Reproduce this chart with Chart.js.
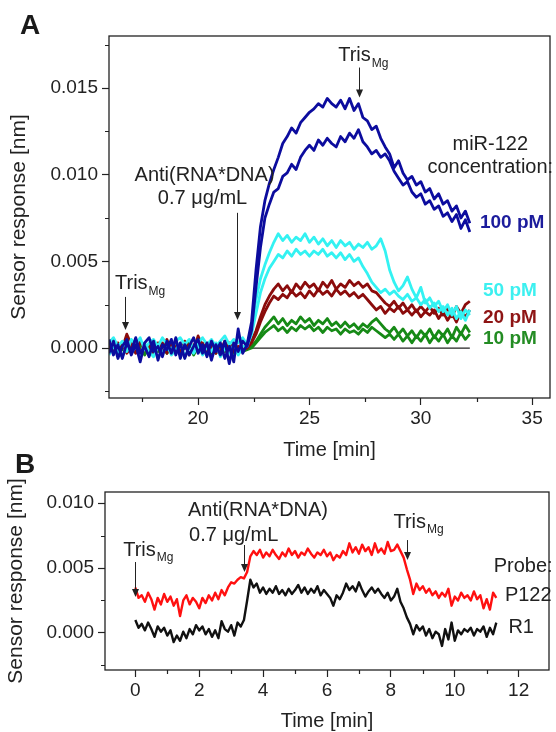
<!DOCTYPE html>
<html>
<head>
<meta charset="utf-8">
<script src="https://cdn.jsdelivr.net/npm/chart.js@4.4.1/dist/chart.umd.min.js"></script>
<style>
  html, body { margin: 0; padding: 0; background: #fff; }
  #wrap { position: relative; width: 556px; height: 732px; }
  canvas { position: absolute; left: 0; }
  #chartA { top: 0; }
  #chartB { top: 462px; }
  .panel { position: absolute; font: bold 28px "Liberation Sans", Arial, sans-serif; color: #1a1a1a; }
</style>
</head>
<body>
<div id="wrap">
  <canvas id="chartA" width="556" height="462"></canvas>
  <canvas id="chartB" width="556" height="270"></canvas>
  <div class="panel" style="left:20px; top:9px;">A</div>
  <div class="panel" style="left:15px; top:448px;">B</div>
</div>
<script>
// ---- panel A: time [min] and sensor response [nm] ----
const timeA = [16, 16.2, 16.4, 16.6, 16.8, 17, 17.2, 17.4, 17.6, 17.8, 18, 18.2, 18.4, 18.6, 18.8, 19, 19.2, 19.4, 19.6, 19.8,
  20, 20.2, 20.4, 20.6, 20.8, 21, 21.2, 21.4, 21.6, 21.8, 22, 22.2, 22.4, 22.6, 22.8, 23, 23.2, 23.4, 23.6, 23.8,
  24, 24.2, 24.4, 24.6, 24.8, 25, 25.2, 25.4, 25.6, 25.8, 26, 26.2, 26.4, 26.6, 26.8, 27, 27.2, 27.4, 27.6, 27.8,
  28, 28.2, 28.4, 28.6, 28.8, 29, 29.2, 29.4, 29.6, 29.8, 30, 30.2, 30.4, 30.6, 30.8, 31, 31.2, 31.4, 31.6, 31.8, 32, 32.2];

const pM100a = [0.0005, -0.0004, 0.0002, -0.0006, 0.0003, -0.0002, 0.0006, -0.0003, 0.0001, -0.0005, 0.0004, -0.0007, 0.0002, -0.0001, 0.0005, -0.0004, 0.0003, -0.0006, 0.0001, 0.0006,
  -0.0003, 0.0002, -0.0005, 0.0004, -0.0002, 0.0003, -0.0006, 0.0001, -0.0008, 0.0011, -0.0003,
  0.0002, 0.0015, 0.0045, 0.007, 0.0085, 0.0095, 0.0103, 0.011, 0.0118, 0.0122, 0.0127, 0.0124, 0.013, 0.0133, 0.0136, 0.0138, 0.0141, 0.0139, 0.0144, 0.0141,
  0.0139, 0.0143, 0.0138, 0.0144, 0.0137, 0.0141, 0.0133, 0.0131, 0.0126, 0.0128, 0.0121, 0.0116, 0.0112, 0.0104, 0.0108, 0.0101, 0.0097, 0.0099, 0.0094, 0.0096,
  0.009, 0.0092, 0.0086, 0.0089, 0.0083, 0.0085, 0.0079, 0.0082, 0.0075, 0.0079, 0.0072];
const pM100b = [-0.0003, 0.0004, -0.0006, 0.0001, 0.0005, -0.0004, 0.0002, -0.0008, 0.0003, 0.0006, -0.0002, 0.0001, -0.0005, 0.0004, -0.0003, 0.0006, -0.0006, 0.0002, -0.0004, 0.0001,
  0.0005, -0.0003, 0.0003, -0.0007, 0.0002, -0.0004, 0.0004, -0.0009, 0.0003, -0.0002, 0.0004,
  0.0001, 0.001, 0.0035, 0.0058, 0.0075, 0.0083, 0.009, 0.0092, 0.0099, 0.0101, 0.0106, 0.0103, 0.011, 0.0114, 0.0117, 0.0114, 0.012, 0.0117, 0.0121, 0.0118,
  0.0116, 0.0122, 0.0119, 0.0124, 0.0121, 0.0126, 0.0119, 0.0116, 0.0112, 0.0114, 0.011, 0.0112, 0.0108, 0.0102, 0.0098, 0.0094, 0.0096, 0.009, 0.0087, 0.0089,
  0.0083, 0.0085, 0.008, 0.0082, 0.0076, 0.0078, 0.0073, 0.0077, 0.0069, 0.0074, 0.0067];
const pM50a = [0.0003, 0.0006, 0.0001, 0.0004, -0.0002, 0.0005, 0.0002, 0.0006, -0.0001, 0.0003, 0.0005, 0.0001, 0.0006, 0.0002, -0.0001, 0.0004, 0.0006, 0.0002, 0.0005, -0.0001,
  0.0003, 0.0006, 0.0002, 0.0005, 0.0001, 0.0004, 0.0007, 0.0002, 0.0005, 0.0003, 0.0006,
  0.0002, 0.0012, 0.0028, 0.004, 0.0048, 0.0055, 0.0061, 0.0066, 0.0062, 0.0065, 0.0061, 0.0064, 0.0062, 0.0066, 0.0061, 0.0064, 0.006, 0.0063, 0.0059, 0.0062,
  0.0058, 0.0062, 0.0059, 0.0061, 0.0057, 0.006, 0.0058, 0.0061, 0.0057, 0.0059, 0.0063, 0.0056, 0.0045, 0.0038, 0.0033, 0.0036, 0.0041, 0.0034, 0.0029, 0.0035,
  0.0026, 0.0029, 0.0024, 0.0027, 0.0021, 0.0025, 0.0019, 0.0024, 0.0017, 0.0022, 0.0019];
const pM50b = [-0.0004, 0.0001, -0.0002, -0.0005, 0.0002, -0.0003, 0.0001, -0.0004, 0.0003, -0.0002, -0.0005, 0.0001, -0.0003, 0.0002, -0.0004, -0.0001, 0.0003, -0.0005, 0, -0.0003,
  0.0002, -0.0004, 0.0001, -0.0002, 0.0003, -0.0005, 0, -0.0003, 0.0002, -0.0004, 0.0001,
  0.0001, 0.0008, 0.002, 0.0032, 0.004, 0.0046, 0.005, 0.0054, 0.0052, 0.0056, 0.0053, 0.0057, 0.0054, 0.0056, 0.0053, 0.0056, 0.0054, 0.0057, 0.0053, 0.0055,
  0.0052, 0.0055, 0.0051, 0.0054, 0.005, 0.0052, 0.0047, 0.0043, 0.0038, 0.0035, 0.0032, 0.0034, 0.0031, 0.0033, 0.003, 0.0028, 0.0031, 0.0027, 0.0029, 0.0025,
  0.0028, 0.0023, 0.0026, 0.0021, 0.0024, 0.0019, 0.0023, 0.0017, 0.0021, 0.0016, 0.0022];
const pM20a = [0.0001, -0.0002, 0.0003, 0, 0.0008, 0.0002, -0.0003, 0.0004, -0.0001, 0.0002, -0.0004, 0.0003, 0, 0.0005, -0.0002, 0.0002, -0.0003, 0.0004, 0.0001, -0.0002,
  0.0007, 0.0001, -0.0003, 0.0003, 0, -0.0002, 0.0004, -0.0001, 0.0002, -0.0003, 0.0001,
  0, 0.0004, 0.001, 0.0018, 0.0025, 0.003, 0.0034, 0.0037, 0.0033, 0.0036, 0.0032, 0.0037, 0.0034, 0.0038, 0.0035, 0.0037, 0.0033, 0.0038, 0.0035, 0.0039,
  0.0034, 0.0037, 0.0035, 0.0039, 0.0036, 0.0038, 0.0035, 0.0037, 0.0033, 0.0032, 0.0029, 0.0026, 0.0024, 0.0027, 0.0023, 0.0026, 0.0022, 0.0025, 0.0021, 0.0024,
  0.0021, 0.0024, 0.002, 0.0023, 0.0019, 0.0023, 0.0018, 0.0024, 0.002, 0.0025, 0.0027];
const pM20b = [-0.0002, 0.0002, -0.0001, 0.0003, -0.0003, 0.0001, 0.0004, -0.0002, 0.0002, -0.0004, 0.0001, -0.0001, 0.0003, -0.0003, 0.0002, 0, -0.0002, 0.0003, -0.0004, 0.0002,
  -0.0001, 0.0003, -0.0002, 0.0001, -0.0003, 0.0002, -0.0001, 0.0003, -0.0002, 0.0001, -0.0001,
  0, 0.0003, 0.0008, 0.0015, 0.0021, 0.0026, 0.003, 0.0028, 0.0031, 0.0029, 0.0033, 0.003, 0.0032, 0.0029, 0.0033, 0.003, 0.0034, 0.0031, 0.0033, 0.003,
  0.0034, 0.0031, 0.0033, 0.003, 0.0032, 0.0029, 0.0031, 0.0028, 0.0025, 0.0022, 0.0024, 0.002, 0.0023, 0.0021, 0.0024, 0.002, 0.0022, 0.0019, 0.0022, 0.0018,
  0.0021, 0.0019, 0.0022, 0.0017, 0.0021, 0.0016, 0.002, 0.0015, 0.0021, 0.0018, 0.0022];
const pM10a = [0.0002, -0.0003, 0.0001, -0.0001, 0.0003, -0.0002, 0, 0.0002, -0.0004, 0.0001, 0.0003, -0.0002, 0.0001, -0.0003, 0.0002, 0, -0.0002, 0.0001, 0.0003, -0.0003,
  0.0001, -0.0001, 0.0002, -0.0004, 0.0001, 0.0002, -0.0002, 0, 0.0002, -0.0003, -0.0001,
  0, 0.0001, 0.0004, 0.0008, 0.0012, 0.0015, 0.0018, 0.0014, 0.0017, 0.0013, 0.0016, 0.0014, 0.0018, 0.0015, 0.0017, 0.0013, 0.0016, 0.0014, 0.0017, 0.0013,
  0.0015, 0.0012, 0.0015, 0.0012, 0.0014, 0.0011, 0.0014, 0.0012, 0.0015, 0.0017, 0.0014, 0.0011, 0.0009, 0.0012, 0.0008, 0.0011, 0.0007, 0.001, 0.0006, 0.001,
  0.0007, 0.0011, 0.0006, 0.001, 0.0007, 0.0011, 0.0006, 0.0012, 0.0008, 0.0013, 0.0009];
const pM10b = [-0.0001, 0.0001, -0.0003, 0.0002, -0.0002, 0.0003, -0.0001, -0.0004, 0.0002, 0, -0.0002, 0.0002, -0.0003, 0.0001, -0.0001, 0.0003, -0.0002, 0, 0.0002, -0.0004,
  0.0001, -0.0002, 0.0002, 0, -0.0003, 0.0001, -0.0001, 0.0002, -0.0003, 0, -0.0002,
  -0.0001, 0, 0.0003, 0.0006, 0.0009, 0.0011, 0.0013, 0.001, 0.0012, 0.0009, 0.0012, 0.001, 0.0013, 0.0011, 0.0013, 0.001, 0.0012, 0.0009, 0.0012, 0.001,
  0.0011, 0.0008, 0.0011, 0.0009, 0.001, 0.0008, 0.0011, 0.0009, 0.0012, 0.001, 0.0008, 0.0006, 0.0008, 0.0005, 0.0008, 0.0004, 0.0007, 0.0003, 0.0007, 0.0004,
  0.0008, 0.0003, 0.0007, 0.0004, 0.0008, 0.0003, 0.0007, 0.0004, 0.0009, 0.0005, 0.0008];
const zeroLineA = [22.3, 32.2];

const xTicksA = [20, 25, 30, 35];
const xMinorA = [17.5, 22.5, 27.5, 32.5];
const yTicksA = [0, 0.005, 0.01, 0.015];
const yMinorA = [-0.0025, 0.0025, 0.0075, 0.0125, 0.0175];

// ---- panel B ----
const timeB = [0, 0.1, 0.2, 0.3, 0.4, 0.5, 0.6, 0.7, 0.8, 0.9, 1, 1.1, 1.2, 1.3, 1.4, 1.5, 1.6, 1.7, 1.8, 1.9,
  2, 2.1, 2.2, 2.3, 2.4, 2.5, 2.6, 2.7, 2.8, 2.9, 3, 3.1, 3.2, 3.3, 3.4, 3.5, 3.6, 3.7, 3.8, 3.9,
  4, 4.1, 4.2, 4.3, 4.4, 4.5, 4.6, 4.7, 4.8, 4.9, 5, 5.1, 5.2, 5.3, 5.4, 5.5, 5.6, 5.7, 5.8, 5.9,
  6, 6.1, 6.2, 6.3, 6.4, 6.5, 6.6, 6.7, 6.8, 6.9, 7, 7.1, 7.2, 7.3, 7.4, 7.5, 7.6, 7.7, 7.8, 7.9,
  8, 8.1, 8.2, 8.3, 8.4, 8.5, 8.6, 8.7, 8.8, 8.9, 9, 9.1, 9.2, 9.3, 9.4, 9.5, 9.6, 9.7, 9.8, 9.9,
  10, 10.1, 10.2, 10.3, 10.4, 10.5, 10.6, 10.7, 10.8, 10.9, 11, 11.1, 11.2, 11.3];
const probeP122 = [0.0035, 0.0027, 0.0029, 0.0024, 0.0031, 0.0026, 0.0018, 0.0027, 0.0022, 0.003,
  0.0024, 0.0028, 0.0021, 0.0026, 0.0013, 0.0025, 0.0029, 0.0022, 0.0027, 0.0024,
  0.0019, 0.0027, 0.0023, 0.0029, 0.0025, 0.0031, 0.0026, 0.0033, 0.0029, 0.0035,
  0.0039, 0.0038, 0.0041, 0.0043, 0.0042, 0.0047, 0.0059, 0.0063, 0.006, 0.0064,
  0.0058, 0.0062, 0.0059, 0.0064, 0.006, 0.0057, 0.0062, 0.0059, 0.0065, 0.006,
  0.0063, 0.0058, 0.0062, 0.006, 0.0065, 0.0061, 0.0058, 0.0062, 0.006, 0.0064,
  0.0059, 0.0062, 0.0056, 0.006, 0.0058, 0.0063, 0.006, 0.0069, 0.0062, 0.0066,
  0.0061, 0.0068, 0.0063, 0.0066, 0.006, 0.0069, 0.0062, 0.0065, 0.0061, 0.007,
  0.0063, 0.0064, 0.0068, 0.0063, 0.0058, 0.0049, 0.0041, 0.003, 0.0038, 0.0033,
  0.0036, 0.0031, 0.0034, 0.0029, 0.0032, 0.0027, 0.0031, 0.0028, 0.0034, 0.0021,
  0.0028, 0.0025, 0.0031, 0.0027, 0.0029, 0.0025, 0.0032, 0.0026, 0.0029, 0.0019,
  0.0026, 0.0018, 0.0031, 0.0027];
const probeR1 = [0.001, 0.0004, 0.0007, 0.0002, 0.0008, 0.0003, -0.0003, 0.0005, 0.0001, 0.0004,
  -0.0002, 0.0002, -0.0007, -0.0002, -0.0006, 0.0001, -0.0004, 0.0003, -0.0001, 0.0006,
  0.0002, 0.0005, -0.0001, 0.0003, -0.0003, 0.0002, -0.0004, 0.0009, 0.0003, 0.0001,
  0.0006, -0.0002, 0.0008, 0.0005, 0.001, 0.0025, 0.0041, 0.0035, 0.0038, 0.0031,
  0.0035, 0.003, 0.0034, 0.0031, 0.0036, 0.003, 0.0033, 0.0029, 0.0034, 0.003,
  0.0033, 0.0037, 0.0031, 0.0035, 0.003, 0.0034, 0.0031, 0.0036, 0.0029, 0.0033,
  0.003, 0.0027, 0.0021, 0.0029, 0.0026, 0.0031, 0.0038, 0.0033, 0.0036, 0.0032,
  0.0039, 0.0033, 0.0028, 0.0032, 0.0035, 0.0031, 0.0034, 0.003, 0.0027, 0.0031,
  0.0025, 0.0028, 0.0034, 0.0024, 0.0019, 0.0012, 0.0007, -0.0001, 0.0006, 0.0002,
  0.0005, -0.0002, 0.0003, -0.0004, 0.0001, -0.0001, -0.001, 0.0003, -0.0005, 0.0008,
  -0.0006, 0.0002, -0.0001, 0.0003, 0.0001, 0.0004, -0.0002, 0.0003, 0.0001, 0.0005,
  -0.0003, 0.0004, -0.0001, 0.0008];

const xTicksB = [0, 2, 4, 6, 8, 10, 12];
const xMinorB = [1, 3, 5, 7, 9, 11];
const yTicksB = [0, 0.005, 0.01];
const yMinorB = [-0.0025, 0.0025, 0.0075];

const FONT = '"Liberation Sans", Arial, Helvetica, sans-serif';
const INK = '#222';

// text + arrows, placed in data coordinates
const notesA = [
  { kind: 'text', x: 20.29, y: 0.00994, text: 'Anti(RNA*DNA)' },
  { kind: 'text', x: 20.2, y: 0.00861, text: '0.7 \u03bcg/mL' },
  { kind: 'arrow', x: 21.75, y1: 0.0078, y2: 0.00162 },
  { kind: 'tris', x: 16.27, y: 0.0037 },
  { kind: 'arrow', x: 16.72, y1: 0.00295, y2: 0.00104 },
  { kind: 'tris', x: 26.29, y: 0.01688 },
  { kind: 'arrow', x: 27.23, y1: 0.01618, y2: 0.01445 },
  { kind: 'text', x: 33.12, y: 0.01173, text: 'miR-122' },
  { kind: 'text', x: 33.12, y: 0.0104, text: 'concentration:' },
  { kind: 'text', x: 34.1, y: 0.00723, text: '100 pM', bold: true, color: '#1c1c9c' },
  { kind: 'text', x: 34.0, y: 0.0033, text: '50 pM', bold: true, color: '#3cf0f0' },
  { kind: 'text', x: 34.0, y: 0.00173, text: '20 pM', bold: true, color: '#8e1414' },
  { kind: 'text', x: 34.0, y: 0.00052, text: '10 pM', bold: true, color: '#238c23' }
];
const notesB = [
  { kind: 'tris', x: -0.38, y: 0.00638 },
  { kind: 'arrow', x: 0, y1: 0.00546, y2: 0.00277 },
  { kind: 'text', x: 3.84, y: 0.00946, text: 'Anti(RNA*DNA)' },
  { kind: 'text', x: 3.08, y: 0.00754, text: '0.7 \u03bcg/mL' },
  { kind: 'arrow', x: 3.4, y1: 0.00677, y2: 0.00469 },
  { kind: 'tris', x: 8.08, y: 0.00854 },
  { kind: 'arrow', x: 8.52, y1: 0.00715, y2: 0.00562 },
  { kind: 'text', x: 12.14, y: 0.00515, text: 'Probe:' },
  { kind: 'text', x: 12.3, y: 0.00285, text: 'P122' },
  { kind: 'text', x: 12.08, y: 0.00046, text: 'R1' }
];

function pairs(times, values) {
  return times.map((t, i) => ({ x: t, y: values[i] }));
}

function line(label, times, values, color, width) {
  return {
    label: label,
    data: pairs(times, values),
    borderColor: color,
    borderWidth: width,
    pointRadius: 0,
    tension: 0,
    borderJoinStyle: 'round',
    fill: false
  };
}

// frame box, short minor ticks and the annotations
function decorPlugin(minorX, minorY, notes) {
  return {
    id: 'decor',
    afterDatasetsDraw(chart) {
      const ctx = chart.ctx;
      const a = chart.chartArea;
      const xs = chart.scales.x, ys = chart.scales.y;
      ctx.save();
      ctx.strokeStyle = INK;
      ctx.lineWidth = 1.3;
      ctx.strokeRect(a.left, a.top, a.right - a.left, a.bottom - a.top);
      ctx.lineWidth = 1.2;
      ctx.beginPath();
      minorX.forEach(v => {
        const px = Math.round(xs.getPixelForValue(v)) + 0.5;
        ctx.moveTo(px, a.bottom); ctx.lineTo(px, a.bottom + 4);
      });
      minorY.forEach(v => {
        const py = Math.round(ys.getPixelForValue(v)) + 0.5;
        ctx.moveTo(a.left, py); ctx.lineTo(a.left - 4, py);
      });
      ctx.stroke();

      ctx.textBaseline = 'middle';
      notes.forEach(n => {
        const px = xs.getPixelForValue(n.x);
        if (n.kind === 'text') {
          ctx.fillStyle = n.color || INK;
          ctx.font = (n.bold ? 'bold 19px ' : '20px ') + FONT;
          ctx.textAlign = 'center';
          ctx.fillText(n.text, px, ys.getPixelForValue(n.y));
        } else if (n.kind === 'tris') {
          const py = ys.getPixelForValue(n.y);
          ctx.fillStyle = INK;
          ctx.textAlign = 'left';
          ctx.font = '20px ' + FONT;
          ctx.fillText('Tris', px, py);
          const w = ctx.measureText('Tris').width;
          ctx.font = '12px ' + FONT;
          ctx.fillText('Mg', px + w + 1, py + 8);
        } else if (n.kind === 'arrow') {
          const x0 = Math.round(px) + 0.5;
          const p1 = ys.getPixelForValue(n.y1), p2 = ys.getPixelForValue(n.y2);
          ctx.strokeStyle = INK;
          ctx.lineWidth = 1;
          ctx.beginPath();
          ctx.moveTo(x0, p1); ctx.lineTo(x0, p2 - 6);
          ctx.stroke();
          ctx.fillStyle = INK;
          ctx.beginPath();
          ctx.moveTo(x0 - 3.5, p2 - 8); ctx.lineTo(x0 + 3.5, p2 - 8); ctx.lineTo(x0, p2);
          ctx.closePath();
          ctx.fill();
        }
      });
      ctx.restore();
    }
  };
}

function axes(cfg) {
  return {
    x: {
      type: 'linear',
      min: cfg.xmin, max: cfg.xmax,
      afterBuildTicks: s => { s.ticks = cfg.xticks.map(v => ({ value: v })); },
      afterFit: s => { s.height = cfg.xh; },
      ticks: { font: { family: FONT, size: 19 }, color: INK, padding: 2, maxRotation: 0, callback: v => String(v) },
      grid: { drawOnChartArea: false, drawTicks: true, tickLength: 7, tickColor: INK, tickWidth: 1.2 },
      border: { display: false },
      title: { display: true, text: 'Time [min]', color: INK, font: { family: FONT, size: 20, lineHeight: 1 }, padding: { top: 0, bottom: cfg.xtpad } }
    },
    y: {
      type: 'linear',
      min: cfg.ymin, max: cfg.ymax,
      afterBuildTicks: s => { s.ticks = cfg.yticks.map(v => ({ value: v })); },
      afterFit: s => { s.width = cfg.yw; },
      ticks: { font: { family: FONT, size: 19 }, color: INK, padding: 4, callback: v => v.toFixed(3) },
      grid: { drawOnChartArea: false, drawTicks: true, tickLength: 7, tickColor: INK, tickWidth: 1.2 },
      border: { display: false },
      title: { display: true, text: 'Sensor response [nm]', color: INK, font: { family: FONT, size: 21, lineHeight: 1 }, padding: { top: cfg.ytpad, bottom: 0 } }
    }
  };
}

const optionsA = {
  type: 'line',
  data: {
    datasets: [
      line('100 pM', timeA, pM100a, '#0c0c9e', 2.8),
      line('100 pM', timeA, pM100b, '#0c0c9e', 2.8),
      line('50 pM', timeA, pM50a, '#33f2f2', 2.8),
      line('50 pM', timeA, pM50b, '#33f2f2', 2.8),
      line('20 pM', timeA, pM20a, '#8b0c0c', 2.8),
      line('20 pM', timeA, pM20b, '#8b0c0c', 2.8),
      line('10 pM', timeA, pM10a, '#168a16', 2.8),
      line('10 pM', timeA, pM10b, '#168a16', 2.8),
      line('zero', zeroLineA, [0, 0], '#222', 1.2)
    ]
  },
  options: {
    responsive: false,
    animation: false,
    devicePixelRatio: 1,
    layout: { padding: { top: 36, right: 6, left: 0, bottom: 0 } },
    plugins: { legend: { display: false }, tooltip: { enabled: false } },
    scales: axes({ xmin: 16, xmax: 35.8, ymin: -0.00288, ymax: 0.018, xticks: xTicksA, yticks: yTicksA, xh: 64, yw: 109, xtpad: 2, ytpad: 9 })
  },
  plugins: [decorPlugin(xMinorA, yMinorA, notesA)]
};

const optionsB = {
  type: 'line',
  data: {
    datasets: [
      line('P122', timeB, probeP122, '#ff1010', 2.4),
      line('R1', timeB, probeR1, '#111', 2.4)
    ]
  },
  options: {
    responsive: false,
    animation: false,
    devicePixelRatio: 1,
    layout: { padding: { top: 30, right: 7, left: 0, bottom: 0 } },
    plugins: { legend: { display: false }, tooltip: { enabled: false } },
    scales: axes({ xmin: -0.95, xmax: 12.95, ymin: -0.00285, ymax: 0.01085, xticks: xTicksB, yticks: yTicksB, xh: 62, yw: 105, xtpad: 1, ytpad: 6 })
  },
  plugins: [decorPlugin(xMinorB, yMinorB, notesB)]
};

new Chart(document.getElementById('chartA').getContext('2d'), optionsA);
new Chart(document.getElementById('chartB').getContext('2d'), optionsB);
</script>
</body>
</html>
